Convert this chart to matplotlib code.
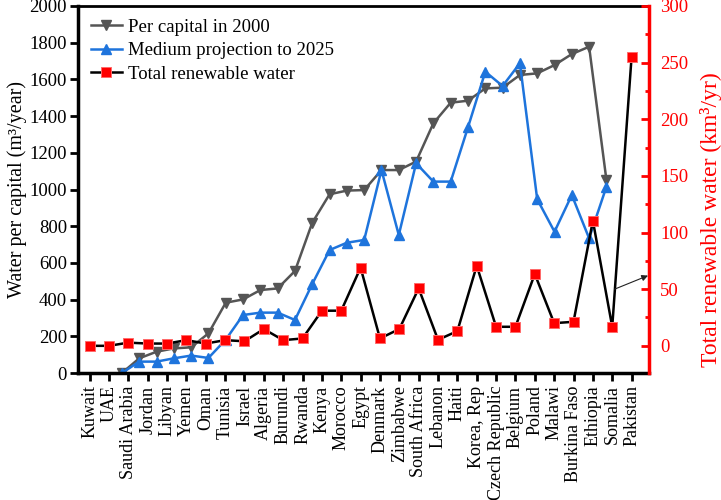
import matplotlib
matplotlib.use("Agg")
import matplotlib.pyplot as plt
import numpy as np
from matplotlib.ticker import MultipleLocator

plt.rcParams['font.family'] = ['Liberation Serif', 'DejaVu Serif']

countries = ['Kuwait', 'UAE', 'Saudi Arabia', 'Jordan', 'Libyan', 'Yemen', 'Oman',
             'Tunisia', 'Israel', 'Algeria', 'Burundi', 'Rwanda', 'Kenya', 'Morocco',
             'Egypt', 'Denmark', 'Zimbabwe', 'South Africa', 'Lebanon', 'Haiti',
             'Korea, Rep', 'Czech Republic', 'Belgium', 'Poland', 'Malawi',
             'Burkina Faso', 'Ethiopia', 'Somalia', 'Pakistan']

# m3 per person per year
per_capita_2000 = [0, 80, 116, 134, 140, 216, 383, 401, 452, 461, 556, 819, 974, 994,
                   997, 1106, 1106, 1152, 1361, 1473, 1484, 1551, 1555, 1624, 1633,
                   1678, 1738, 1778, 1052]
projection_2025 = [0, 62, 62, 80, 95, 82, 182, 316, 329, 329, 289, 485, 670, 710,
                   725, 1106, 752, 1143, 1043, 1043, 1339, 1642, 1564, 1688, 947,
                   770, 970, 734, 1015]

# km3 per year
renewable = [0, 0, 2.8, 2, 2, 5, 2, 5, 4, 14.8, 5, 6.5, 31, 31, 69, 6.5, 14.8, 50.7,
             5.3, 13, 70.7, 16.8, 16.8, 63.4, 20, 21.2, 110.5, 16.8, 255]

x = np.arange(len(countries))
# the two per-capita lines sit on their own (narrower) x spacing in the original
x_lines = np.linspace(1.67, 26.7, len(per_capita_2000))

fig = plt.figure(figsize=(7.21, 5.0), dpi=100)
ax = fig.add_axes([78 / 721, 1 - 373 / 500, 571 / 721, 367 / 500])
ax2 = ax.twinx()

gray = '#555555'
blue = '#1E74DC'
red = '#FF0000'

l1, = ax.plot(x_lines, per_capita_2000, color=gray, lw=1.8, marker='v', ms=7.5,
              label='Per capital in 2000')
l2, = ax.plot(x_lines, projection_2025, color=blue, lw=1.8, marker='^', ms=7.5,
              label='Medium projection to 2025')
l3, = ax2.plot(x, renewable, color='black', lw=1.8, marker='s', ms=6.5,
               mfc=red, mec='#ff6a6a', mew=0.7, label='Total renewable water')

ax.set_xlim(-0.6, 28.9)
ax.set_ylim(0, 2000)
ax2.set_ylim(-24, 300)

ax.set_xticks(x)
ax.set_xticklabels(countries, rotation=90, fontsize=13)
ax.yaxis.set_major_locator(MultipleLocator(200))
ax.tick_params(axis='y', direction='out', length=6, width=2, labelsize=13.5, pad=2)
ax.tick_params(axis='x', direction='out', length=6, width=2, pad=3)
ax.set_ylabel('Water per capital (m³/year)', fontsize=14.5, labelpad=2)

ax2.yaxis.set_major_locator(MultipleLocator(50))
ax2.yaxis.set_minor_locator(MultipleLocator(25))
ax2.tick_params(axis='y', which='major', direction='in', length=6, width=2,
                colors=red, labelsize=13.5, pad=8)
ax2.tick_params(axis='y', which='minor', direction='in', length=3, width=2, colors=red)
ax2.set_ylabel('Total renewable water (km³/yr)', color=red, fontsize=17)
ax2.yaxis.set_label_coords(1.09, 0.417)

for s in ['left', 'bottom']:
    ax.spines[s].set_linewidth(2.5)
ax.spines['top'].set_linewidth(2)
ax.spines['right'].set_visible(False)
for s in ['left', 'bottom', 'top']:
    ax2.spines[s].set_visible(False)
ax2.spines['right'].set_color(red)
ax2.spines['right'].set_linewidth(2.5)

ax2.annotate('', xy=(28.85, 62), xytext=(27.12, 50),
             arrowprops=dict(arrowstyle='-|>', color='#222222', lw=0.8,
                             mutation_scale=9, shrinkA=0, shrinkB=0))

ax2.legend(handles=[l1, l2, l3], loc='upper left', bbox_to_anchor=(0.022, 0.966),
           frameon=False, fontsize=13.5, handlelength=1.7, handletextpad=0.3,
           labelspacing=0.35, borderpad=0, borderaxespad=0)

fig.savefig('out.png', dpi=100)
